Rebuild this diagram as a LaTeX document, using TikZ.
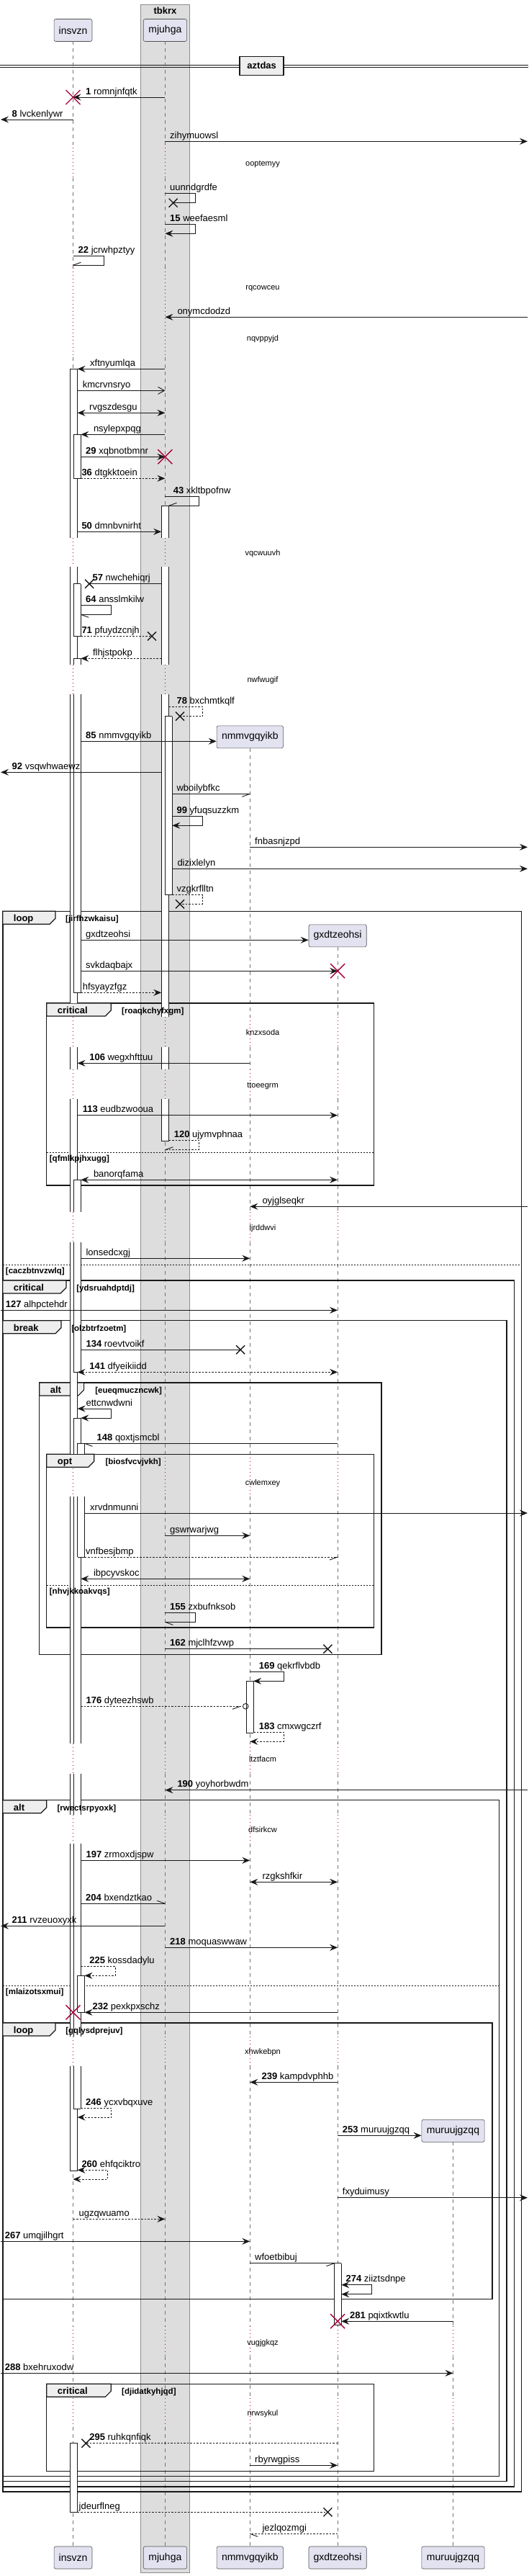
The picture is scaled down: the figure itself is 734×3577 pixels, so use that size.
\documentclass[tikz,border=0pt]{standalone}
\usepackage{fontspec}
\setmainfont{Liberation Sans}
\usetikzlibrary{arrows.meta}
\definecolor{partfill}{HTML}{E2E2F0}
\definecolor{boxgray}{HTML}{DDDDDD}
\definecolor{tabgray}{HTML}{EEEEEE}
\definecolor{crimson}{HTML}{A80036}
\definecolor{ink}{HTML}{181818}
\newcounter{lbn}
\pgfdeclarelayer{front}
\pgfsetlayers{main,front}
\tikzset{
  >={Stealth[length=11pt,width=9pt,inset=4pt]},
  part/.style={draw=ink!75, fill=partfill, rounded corners=2.5pt, line width=0.6pt,
    minimum height=31pt, inner sep=0pt, font=\fontsize{14}{16}\selectfont},
  life/.style={draw=black!55, line width=0.7pt, dash pattern=on 5pt off 5pt},
  wait/.style={draw=crimson, line width=0.8pt, dash pattern=on 1pt off 4pt},
  plain/.style={draw=ink, line width=0.9pt},
  msg/.style={plain, ->},
  both/.style={plain, <->},
  ret/.style={dash pattern=on 2.5pt off 2pt},
  frm/.style={draw=ink, line width=1.5pt},
  lbl/.style={anchor=base west, inner sep=0pt, font=\fontsize{13}{15}\selectfont},
  ttl/.style={anchor=base west, inner sep=0pt, font=\bfseries\fontsize{13}{15}\selectfont},
  cnd/.style={anchor=base west, inner sep=0pt, font=\bfseries\fontsize{11.5}{13}\selectfont},
  waittxt/.style={anchor=base, inner sep=0pt, font=\fontsize{11}{13}\selectfont},
  kill/.pic={\draw[crimson, line width=1.4pt] (-10,-10) -- (10,10) (-10,10) -- (10,-10);},
  lost/.pic={\draw[ink, line width=1.4pt] (-6,-6) -- (6,6) (-6,6) -- (6,-6);},
}
\begin{document}
\begin{tikzpicture}[x=1pt,y=-1pt]

  \newcommand\lab[2]{\stepcounter{lbn}\node[lbl] (lab\arabic{lbn}) at (#1) {#2};}
  \newcommand\act[5]{%
    \fill[white] (#1,#3) rectangle (#2,#4);
    \draw[plain, line width=0.8pt] (#1,#3) -- (#1,#4) (#2,#3) -- (#2,#4);
    \ifodd#5 \draw[plain, line width=0.8pt] (#1,#3) -- (#2,#3);\fi
    \ifnum#5>1 \draw[plain, line width=0.8pt] (#1,#4) -- (#2,#4);\fi}
  \newcommand\grp[8]{%
    \draw[frm] (#1,#2) rectangle (#3,#4);
    \draw[frm, line width=1.2pt, fill=tabgray] (#1,#2) -- ++(#5,0) -- ++(0,10) -- ++(-8,8) -- (#1,#2+18) -- cycle;
    \begin{pgfonlayer}{front}
      \stepcounter{lbn}\node[ttl] (grp\arabic{lbn}) at (#1+15,#2+14.5) {#6};
      \node[cnd] (cnd\arabic{lbn}) at (#8,#2+14.5) {[#7]};
    \end{pgfonlayer}}
  \newcommand\els[4]{%
    \draw[ink, line width=0.8pt, dash pattern=on 2pt off 2pt] (#1,#3) -- (#2,#3);
    \begin{pgfonlayer}{front}
      \stepcounter{lbn}\node[cnd] (els\arabic{lbn}) at (#1+4,#3+12.2) {[#4]};
    \end{pgfonlayer}}
  \newcommand\barb[2]{\draw[plain] (#1) -- ++(#2);}

  \fill[white] (0,0) rectangle (734,3577);
  \useasboundingbox (0,0) rectangle (734,3577);

  % box round mjuhga
  \draw[draw=black!45, fill=boxgray, line width=0.7pt] (194.9,6) rectangle (263.8,3572.7);
  \node[ttl, anchor=base] (tbkrx) at (229.4,19.5) {tbkrx};

  % participants, top and bottom
  \node[part, minimum width=52.9pt] (ins) at (101.5,42) {insvzn};
  \node[part, minimum width=60.4pt] (mju) at (229.4,42) {mjuhga};
  \node[part, minimum width=92.5pt] (nmm) at (347.3,1023.3) {nmmvgqyikb};
  \node[part, minimum width=80.2pt] (gxd) at (469.1,1299.3) {gxdtzeohsi};
  \node[part, minimum width=87.3pt] (mur) at (629.5,2958.8) {muruujgzqq};
  \node[part, minimum width=52.9pt] (insB) at (101.5,3551.5) {insvzn};
  \node[part, minimum width=60.4pt] (mjuB) at (229.4,3551.5) {mjuhga};
  \node[part, minimum width=92.5pt] (nmmB) at (347.3,3551.5) {nmmvgqyikb};
  \node[part, minimum width=80.2pt] (gxdB) at (469.1,3551.5) {gxdtzeohsi};
  \node[part, minimum width=87.3pt] (murB) at (629.5,3551.5) {muruujgzqq};

  \coordinate (west) at (1,0);   \coordinate (east) at (733,0);
  \coordinate (iA) at (107.6,0); \coordinate (iB) at (112.3,0); \coordinate (iC) at (117.5,0);
  \coordinate (mA) at (224.2,0); \coordinate (mB) at (234.5,0); \coordinate (mC) at (239.3,0);
  \coordinate (nB) at (352.1,0); \coordinate (gA) at (464.4,0); \coordinate (gB) at (474.3,0);

  % separator
  \draw[ink, line width=0.8pt] (0,90.5) -- (734,90.5) (0,93.2) -- (734,93.2);
  \node[draw=ink, line width=1.6pt, fill=tabgray, minimum width=61pt, minimum height=26pt,
    inner sep=0pt, font=\bfseries\fontsize{13}{15}\selectfont] (aztdas) at (363.7,91.3) {aztdas};

  % lifelines: dashed, dotted while waiting
  \foreach \p/\s in {ins/57.3, mju/57.3, nmm/1039.3, gxd/1315.3, mur/2974.3} {
    \foreach \a/\b in {57.3/200, 246.7/371.7, 496/746.7, 787.3/922.7, 964/1412.3, 1454.3/1485,
        1526/1683.3, 1725.3/2019.3, 2078.3/2420.7, 2463.3/2520, 2560/2828.3, 2869/3230,
        3271.7/3330, 3370/3535.7} {
      \pgfmathsetmacro\lo{max(\a,\s)}
      \ifdim\b pt>\lo pt \draw[life] (\p|-0,\lo) -- (\p|-0,\b);\fi
    }
    \foreach \a/\b in {200/246.7, 371.7/496, 746.7/787.3, 922.7/964, 1412.3/1454.3, 1485/1526,
        1683.3/1725.3, 2019.3/2078.3, 2420.7/2463.3, 2520/2560, 2828.3/2869, 3230/3271.7, 3330/3370} {
      \ifdim\a pt>\s pt \draw[wait] (\p|-0,\a) -- (\p|-0,\b);\fi
    }
  }
  \foreach \t/\y [count=\i] in {ooptemyy/226.7, rqcowceu/398.7, nqvppyjd/470.3, vqcwuuvh/768.3,
      nwfwugif/944.3, knzxsoda/1434.3, ttoeegrm/1506.7, ljrddwvi/1705, cwlemxey/2059.3,
      ltztfacm/2443.3, dfsirkcw/2541, xhwkebpn/2849, vugjgkqz/3253.3, nrwsykul/3350.7}
    {\node[waittxt] (wait\i) at (365,\y+3.5) {\t};}

  % groups
  \grp{3.8}{1265.3}{724.4}{3460}{73.1}{loop}{jirfhzwkaisu}{91}
  \grp{64.7}{1393}{519.6}{1646}{89.6}{critical}{roaqkchyfxgm}{169}
  \els{64.7}{519.6}{1600}{qfmlkpjhxugg}
  \els{3.8}{724.4}{1756.3}{caczbtnvzwlq}
  \grp{3.8}{1778}{714.5}{3453}{88.2}{critical}{ydsruahdptdj}{106.2}
  \grp{3.8}{1833.7}{704.1}{3445.7}{81.2}{break}{olzbtrfzoetm}{99.1}
  \grp{54.7}{1920}{530}{2297.3}{61.9}{alt}{eueqmuczncwk}{132.1}
  \grp{64.7}{2019.3}{519.6}{2260}{66}{opt}{biosfvcvjvkh}{146.3}
  \els{64.7}{519.6}{2201}{nhvjkkoakvqs}
  \grp{3.8}{2499.7}{693.7}{3438.3}{60.9}{alt}{rwectsrpyoxk}{79.3}
  \els{3.8}{693.7}{2757.3}{mlaizotsxmui}
  \grp{3.8}{2809}{683.8}{3192.7}{73.1}{loop}{gqlysdprejuv}{91.1}
  \grp{64.7}{3310.3}{519.6}{3431.3}{89.6}{critical}{djidatkyhjqd}{169}

  % activations
  \foreach \a/\b/\m in {512.3/746.7/1, 787.3/922.7/0, 964/1393/0, 1454.3/1485/0, 1526/1683.3/0,
      1725.3/2019.3/0, 2078.3/2420.7/0, 2463.3/2520/0, 2560/2828.3/0, 2869/3014.3/2, 3392.7/3488.3/3}
    {\act{97.2}{107.6}{\a}{\b}{\m}}
  \foreach \a/\b/\m in {603.3/664.3/3, 810.7/883.3/3, 914.3/922.7/1, 964/1378.3/2, 1638.3/1683.3/1,
      1725.3/1905.3/2, 1969/2019.3/1, 2078.3/2420.7/0, 2463.3/2520/0, 2560/2828.3/0, 2869/2928.3/2}
    {\act{102.4}{112.3}{\a}{\b}{\m}}
  \foreach \a/\b/\m in {2004.3/2019.3/1, 2078.3/2162/2, 2743.3/2794.3/3}
    {\act{107.6}{117.5}{\a}{\b}{\m}}
  \foreach \a/\b/\m in {702.3/746.7/1, 787.3/922.7/0, 964/1412.3/0, 1454.3/1485/0, 1526/1584.3/2}
    {\act{224.2}{234.5}{\a}{\b}{\m}}
  \act{229.4}{239.3}{994.7}{1242.7}{3}
  \act{342.1}{352.1}{2334.3}{2406}{3}
  \act{464.4}{474.3}{3142.7}{3228}{3}

  % messages
  \draw[msg] (mju|-0,135) -- (ins|-0,135); \pic at (ins|-0,135) {kill};
  \lab{119,131}{\textbf{1} romnjnfqtk}
  \draw[msg] (ins|-0,166) -- (west|-0,166);
  \lab{16.5,162}{\textbf{8} lvckenlywr}
  \draw[msg] (mju|-0,196.3) -- (east|-0,196.3);
  \lab{236,192.3}{zihymuowsl}
  \draw[plain] (mju|-0,268.3) -- (271.8,268.3) -- (271.8,281.7) -- (240.7,281.7); \pic at (240.7,281.7) {lost};
  \lab{236,264.3}{uunndgrdfe}
  \draw[msg] (mju|-0,311.7) -- (271.8,311.7) -- (271.8,324.3) -- (mju|-0,324.3);
  \lab{236,307.7}{\textbf{15} weefaesml}
  \draw[plain] (ins|-0,355.7) -- (144.4,355.7) -- (144.4,368.3) -- (ins|-0,368.3); \barb{ins|-0,368.3}{11,-4}
  \lab{108.5,351.7}{\textbf{22} jcrwhpztyy}
  \draw[msg] (east|-0,440.3) -- (mju|-0,440.3);
  \lab{246.3,436.3}{onymcdodzd}
  \draw[msg] (mju|-0,512.3) -- (iA|-0,512.3);
  \lab{125,508.3}{xftnyumlqa}
  \draw[plain, -{Straight Barb[length=9pt,width=10pt]}] (iA|-0,542.3) -- (mju|-0,542.3);
  \lab{114.7,538.3}{kmcrvnsryo}
  \draw[both] (iA|-0,573.3) -- (mju|-0,573.3);
  \lab{124,569.3}{rvgszdesgu}
  \draw[msg] (mju|-0,603.3) -- (iB|-0,603.3);
  \lab{129.8,599.3}{nsylepxpqg}
  \draw[msg] (iB|-0,634.3) -- (mju|-0,634.3); \pic at (mju|-0,634.3) {kill};
  \lab{119,630.3}{\textbf{29} xqbnotbmnr}
  \draw[msg, ret] (iA|-0,664.3) -- (mju|-0,664.3);
  \lab{113.3,660.3}{\textbf{36} dtgkktoein}
  \draw[plain] (mju|-0,689.3) -- (276.5,689.3) -- (276.5,702.3) -- (mB|-0,702.3); \barb{mB|-0,702.3}{11,-4}
  \lab{240.7,685.3}{\textbf{43} xkltbpofnw}
  \draw[msg] (iA|-0,738.3) -- (mA|-0,738.3);
  \lab{113.3,734.3}{\textbf{50} dmnbvnirht}
  \draw[plain] (mA|-0,810.7) -- (124.1,810.7); \pic at (124.1,810.7) {lost};
  \lab{128.4,806.7}{\textbf{57} nwchehiqrj}
  \draw[plain] (iB|-0,840.3) -- (154.8,840.3) -- (154.8,853.3) -- (iB|-0,853.3); \barb{iB|-0,853.3}{11,4}
  \lab{119,836.3}{\textbf{64} ansslmkilw}
  \draw[plain, ret] (iB|-0,883.3) -- (211,883.3); \pic at (211,883.3) {lost};
  \lab{113.3,879.3}{\textbf{71} pfuydzcnjh}
  \draw[msg, ret] (mA|-0,914.3) -- (iB|-0,914.3);
  \lab{128.8,910.3}{flhjstpokp}
  \draw[plain, ret] (mB|-0,981.3) -- (281.7,981.3) -- (281.7,994.7) -- (250,994.7); \pic at (250,994.7) {lost};
  \lab{245.4,977.3}{\textbf{78} bxchmtkqlf}
  \draw[msg] (iB|-0,1029.3) -- (nmm.west|-0,1029.3);
  \lab{119,1025.3}{\textbf{85} nmmvgqyikb}
  \draw[msg] (mA|-0,1072.3) -- (west|-0,1072.3);
  \lab{16.5,1068.3}{\textbf{92} vsqwhwaewz}
  \draw[plain] (mC|-0,1102.3) -- (nmm|-0,1102.3); \barb{nmm|-0,1102.3}{-11,4}
  \lab{245.4,1098.3}{wboilybfkc}
  \draw[msg] (mC|-0,1133.3) -- (281.7,1133.3) -- (281.7,1146.3) -- (mC|-0,1146.3);
  \lab{245.4,1129.3}{\textbf{99} yfuqsuzzkm}
  \draw[msg] (nmm|-0,1176.3) -- (east|-0,1176.3);
  \lab{354,1172.3}{fnbasnjzpd}
  \draw[msg] (mC|-0,1206.3) -- (east|-0,1206.3);
  \lab{246.3,1202.3}{dizixlelyn}
  \draw[plain, ret] (mC|-0,1242.7) -- (281.7,1242.7) -- (281.7,1255.3) -- (250,1255.3); \pic at (250,1255.3) {lost};
  \lab{245.4,1238.7}{vzgkrflltn}
  \draw[msg] (iB|-0,1305.3) -- (gxd.west|-0,1305.3);
  \lab{119,1301.3}{gxdtzeohsi}
  \draw[msg] (iB|-0,1348.3) -- (gxd|-0,1348.3); \pic at (gxd|-0,1348.3) {kill};
  \lab{119,1344.3}{svkdaqbajx}
  \draw[msg, ret] (iB|-0,1378.3) -- (mA|-0,1378.3);
  \lab{114.7,1374.3}{hfsyayzfgz}
  \draw[msg] (nmm|-0,1476.3) -- (iA|-0,1476.3);
  \lab{124.1,1472.3}{\textbf{106} wegxhfttuu}
  \draw[msg] (iA|-0,1548.7) -- (gxd|-0,1548.7);
  \lab{114.7,1544.7}{\textbf{113} eudbzwooua}
  \draw[plain, ret] (mB|-0,1583.3) -- (276.5,1583.3) -- (276.5,1596.7) -- (mju|-0,1596.7); \barb{mju|-0,1596.7}{11,-4}
  \lab{241.6,1579.3}{\textbf{120} ujymvphnaa}
  \draw[both] (iB|-0,1638.3) -- (gxd|-0,1638.3);
  \lab{129.8,1634.3}{banorqfama}
  \draw[msg] (east|-0,1675.3) -- (nmm|-0,1675.3);
  \lab{364.3,1671.3}{oyjglseqkr}
  \draw[msg] (iB|-0,1747.3) -- (nmm|-0,1747.3);
  \lab{119.4,1743.3}{lonsedcxgj}
  \draw[msg] (west|-0,1819.3) -- (gxd|-0,1819.3);
  \lab{7.6,1815.3}{\textbf{127} alhpctehdr}
  \draw[plain] (iB|-0,1874.3) -- (334.1,1874.3); \pic at (334.1,1874.3) {lost};
  \lab{119.4,1870.3}{\textbf{134} roevtvoikf}
  \draw[both, ret] (iA|-0,1905.3) -- (gxd|-0,1905.3);
  \lab{124.1,1901.3}{\textbf{141} dfyeikiidd}
  \draw[both] (iA|-0,1956) -- (154.8,1956) -- (154.8,1969) -- (iB|-0,1969);
  \lab{119.4,1952}{ettcnwdwni}
  \draw[plain] (gxd|-0,2004.3) -- (iC|-0,2004.3); \barb{iC|-0,2004.3}{11,4}
  \lab{134.5,2000.3}{\textbf{148} qoxtjsmcbl}
  \draw[msg] (iC|-0,2101) -- (east|-0,2101);
  \lab{125,2097}{xrvdnmunni}
  \draw[msg] (mju|-0,2132.3) -- (nmm|-0,2132.3);
  \lab{236,2128.3}{gswrwarjwg}
  \draw[plain, ret] (iC|-0,2162) -- (gxd|-0,2162); \barb{gxd|-0,2162}{-11,4}
  \lab{119,2158}{vnfbesjbmp}
  \draw[both] (iB|-0,2192.3) -- (nmm|-0,2192.3);
  \lab{129.8,2188.3}{ibpcyvskoc}
  \draw[plain] (mju|-0,2239.7) -- (271.8,2239.7) -- (271.8,2252.3) -- (mju|-0,2252.3); \barb{mju|-0,2252.3}{11,4}
  \lab{236,2235.7}{\textbf{155} zxbufnksob}
  \draw[plain] (mju|-0,2289.7) -- (455.4,2289.7); \pic at (455.4,2289.7) {lost};
  \lab{236,2285.7}{\textbf{162} mjclhfzvwp}
  \draw[msg] (nmm|-0,2321.3) -- (394,2321.3) -- (394,2334.3) -- (nB|-0,2334.3);
  \lab{359.6,2317.3}{\textbf{169} qekrflvbdb}
  \draw[plain, ret] (iB|-0,2369.3) -- (337.4,2369.3); \draw[plain] (341.2,2369.3) circle[radius=3.8pt]; \barb{334,2369.3}{-11,4}
  \lab{119.4,2365.3}{\textbf{176} dyteezhswb}
  \draw[msg, ret] (nB|-0,2405) -- (394,2405) -- (394,2418.3) -- (nmm|-0,2418.3);
  \lab{359.6,2401}{\textbf{183} cmxwgczrf}
  \draw[msg] (east|-0,2485.7) -- (mju|-0,2485.7);
  \lab{246.3,2481.7}{\textbf{190} yoyhorbwdm}
  \draw[msg] (iB|-0,2583.3) -- (nmm|-0,2583.3);
  \lab{119.4,2579.3}{\textbf{197} zrmoxdjspw}
  \draw[both] (nmm|-0,2613.3) -- (gxd|-0,2613.3);
  \lab{364.3,2609.3}{rzgkshfkir}
  \draw[plain] (iB|-0,2643.3) -- (mju|-0,2643.3); \barb{mju|-0,2643.3}{-11,-4}
  \lab{119,2639.3}{\textbf{204} bxendztkao}
  \draw[msg] (mju|-0,2674.3) -- (west|-0,2674.3);
  \lab{16.5,2670.3}{\textbf{211} rvzeuoxyxk}
  \draw[msg] (mju|-0,2704.3) -- (gxd|-0,2704.3);
  \lab{236,2700.3}{\textbf{218} moquaswwaw}
  \draw[msg, ret] (iB|-0,2730.3) -- (160,2730.3) -- (160,2743.3) -- (iC|-0,2743.3);
  \lab{124.1,2726.3}{\textbf{225} kossdadylu}
  \draw[msg] (gxd|-0,2794.3) -- (iC|-0,2794.3); \pic at (ins|-0,2794.3) {kill};
  \lab{128.4,2790.3}{\textbf{232} pexkpxschz}
  \draw[msg] (gxd|-0,2891.3) -- (nmm|-0,2891.3);
  \lab{363.4,2887.3}{\textbf{239} kampdvphhb}
  \draw[msg, ret] (iB|-0,2927.3) -- (154.8,2927.3) -- (154.8,2940) -- (iA|-0,2940);
  \lab{119,2923.3}{\textbf{246} ycxvbqxuve}
  \draw[msg] (gxd|-0,2965.3) -- (mur.west|-0,2965.3);
  \lab{475.7,2961.3}{\textbf{253} muruujgzqq}
  \draw[both, ret] (iA|-0,3013.3) -- (149.6,3013.3) -- (149.6,3026) -- (ins|-0,3026);
  \lab{113.3,3009.3}{\textbf{260} ehfqciktro}
  \draw[msg] (gxd|-0,3051.7) -- (east|-0,3051.7);
  \lab{475.7,3047.7}{fxyduimusy}
  \draw[msg, ret] (ins|-0,3081.3) -- (mju|-0,3081.3);
  \lab{109.5,3077.3}{ugzqwuamo}
  \draw[msg] (west|-0,3112.3) -- (nmm|-0,3112.3);
  \lab{6.6,3108.3}{\textbf{267} umqjilhgrt}
  \draw[plain] (nmm|-0,3142.7) -- (gA|-0,3142.7); \barb{gA|-0,3142.7}{-11,4}
  \lab{354,3138.7}{wfoetbibuj}
  \draw[both] (gB|-0,3172.7) -- (516.8,3172.7) -- (516.8,3185.7) -- (gB|-0,3185.7);
  \lab{480.4,3168.7}{\textbf{274} ziiztsdnpe}
  \draw[msg] (mur|-0,3223.3) -- (gB|-0,3223.3); \pic at (gxd|-0,3223.3) {kill};
  \lab{486,3219.3}{\textbf{281} pqixtkwtlu}
  \draw[msg] (west|-0,3295.3) -- (mur|-0,3295.3);
  \lab{6.6,3291.3}{\textbf{288} bxehruxodw}
  \draw[plain, ret] (gxd|-0,3392.7) -- (119.4,3392.7); \pic at (119.4,3392.7) {lost};
  \lab{124.1,3388.7}{\textbf{295} ruhkqnfiqk}
  \draw[msg] (nmm|-0,3423.3) -- (gxd|-0,3423.3);
  \lab{354,3419.3}{rbyrwgpiss}
  \draw[plain, ret] (iA|-0,3488.3) -- (455.4,3488.3); \pic at (455.4,3488.3) {lost};
  \lab{109.5,3484.3}{jdeurflneg}
  \draw[plain, ret] (gxd|-0,3518.3) -- (nmm|-0,3518.3); \barb{nmm|-0,3518.3}{11,4}
  \lab{364.3,3514.3}{jezlqozmgi}
\end{tikzpicture}
\end{document}
